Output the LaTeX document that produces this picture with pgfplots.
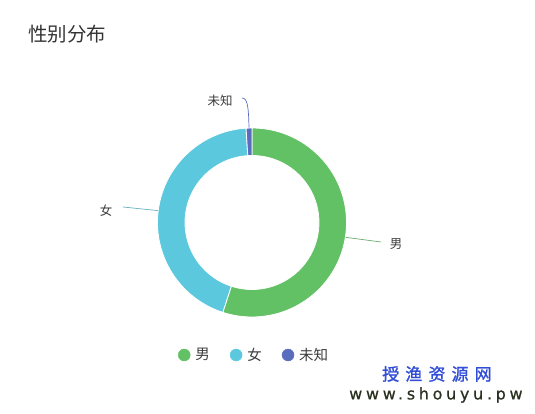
\documentclass[border=0pt]{standalone}
\usepackage{fontspec}
\setmainfont{Noto Sans CJK SC}
\newfontfamily\urlfont{DejaVu Sans}[LetterSpace=23, FakeBold=0.6]
\newfontfamily\wmfont{Noto Sans CJK SC}[LetterSpace=36, FakeBold=1.4]
\usepackage{pgfplots}
\pgfplotsset{compat=1.18}
\usepackage{pgfplotstable}
\definecolor{gcol}{RGB}{99,193,101}
\definecolor{ccol}{RGB}{91,200,222}
\definecolor{bcol}{RGB}{90,108,190}
\definecolor{wmblue}{RGB}{50,78,215}
\definecolor{wmdark}{RGB}{42,48,32}
\definecolor{titlecol}{RGB}{51,51,51}
\definecolor{labcol}{RGB}{60,60,60}

% gender distribution (percent)
\pgfplotstableread{
idx value
0 55.0
1 44.0
2 1.0
}\gender

\begin{document}
\begin{tikzpicture}
\pgfplotstablegetelem{0}{value}\of\gender \let\vA\pgfplotsretval
\pgfplotstablegetelem{1}{value}\of\gender \let\vB\pgfplotsretval
\pgfplotstablegetelem{2}{value}\of\gender \let\vC\pgfplotsretval
\pgfmathsetmacro{\tot}{\vA+\vB+\vC}
\pgfmathsetmacro{\aO}{90}
\pgfmathsetmacro{\aA}{90-\vA/\tot*360}
\pgfmathsetmacro{\aB}{\aA-\vB/\tot*360}
\pgfmathsetmacro{\aC}{\aB-\vC/\tot*360}
\pgfmathsetmacro{\mA}{(\aO+\aA)/2}
\pgfmathsetmacro{\mB}{(\aA+\aB)/2}
\pgfmathsetmacro{\mC}{(\aB+\aC)/2}
\path (0,0) rectangle (535pt,414pt);
\begin{axis}[
  at={(0,0)}, anchor=south west,
  scale only axis, width=535pt, height=414pt,
  xmin=0, xmax=535, ymin=0, ymax=414,
  hide axis, clip=false,
  legend columns=3,
  legend style={at={(axis description cs:0.475,0.1425)}, anchor=center,
    draw=none, fill=none, font=\fontsize{14.5}{17}\selectfont, text=labcol,
    /tikz/every even column/.append style={column sep=18pt}},
]
\addlegendimage{legend image code/.code={\fill[gcol] (0pt,0pt) circle (6pt); \path (9pt,0pt);}}
\addlegendentry{男}
\addlegendimage{legend image code/.code={\fill[ccol] (0pt,0pt) circle (6pt); \path (9pt,0pt);}}
\addlegendentry{女}
\addlegendimage{legend image code/.code={\fill[bcol] (0pt,0pt) circle (6pt); \path (9pt,0pt);}}
\addlegendentry{未知}

% slices
\filldraw[fill=gcol, draw=white, line width=0.8pt]
  ([shift={(\aO:94.5pt)}]axis cs:252,191.5) arc[start angle=\aO, end angle=\aA, radius=94.5pt]
  -- ([shift={(\aA:67pt)}]axis cs:252,191.5) arc[start angle=\aA, end angle=\aO, radius=67pt] -- cycle;
\filldraw[fill=ccol, draw=white, line width=0.8pt]
  ([shift={(\aA:94.5pt)}]axis cs:252,191.5) arc[start angle=\aA, end angle=\aB, radius=94.5pt]
  -- ([shift={(\aB:67pt)}]axis cs:252,191.5) arc[start angle=\aB, end angle=\aA, radius=67pt] -- cycle;
\filldraw[fill=bcol, draw=white, line width=0.8pt]
  ([shift={(\aB:94.5pt)}]axis cs:252,191.5) arc[start angle=\aB, end angle=\aC, radius=94.5pt]
  -- ([shift={(\aC:67pt)}]axis cs:252,191.5) arc[start angle=\aC, end angle=\aB, radius=67pt] -- cycle;

% label lines
\draw[gcol!70!gray, line width=0.7pt] ([shift={(\mA:95pt)}]axis cs:252,191.5) -- (axis cs:381,172);
\draw[ccol!70!gray, line width=0.7pt] ([shift={(\mB:95pt)}]axis cs:252,191.5) -- (axis cs:123,207);
\draw[bcol, line width=0.7pt] ([shift={(\mC:95pt)}]axis cs:252,191.5)
   .. controls (axis cs:248.5,305) and (axis cs:248,316) .. (axis cs:242,316);

% labels
\node[anchor=center, text=labcol, font=\fontsize{12.5}{14}\selectfont] at (axis cs:396,170) {男};
\node[anchor=center, text=labcol, font=\fontsize{12.5}{14}\selectfont] at (axis cs:106,203) {女};
\node[anchor=center, text=labcol, font=\fontsize{12.5}{14}\selectfont] at (axis cs:220,313) {未知};

% title
\node[anchor=west, inner sep=0pt, text=titlecol, font=\fontsize{19.5}{22}\selectfont] at (axis cs:28,380) {性别分布};

% watermark
\node[anchor=west, inner sep=0pt, text=wmblue, font=\wmfont\fontsize{17}{20}\selectfont] at (axis cs:382,40) {授渔资源网};
\node[anchor=west, inner sep=0pt, text=wmdark, font=\urlfont\fontsize{16}{18}\selectfont] at (axis cs:349,19) {www.shouyu.pw};
\end{axis}
\end{tikzpicture}
\end{document}
